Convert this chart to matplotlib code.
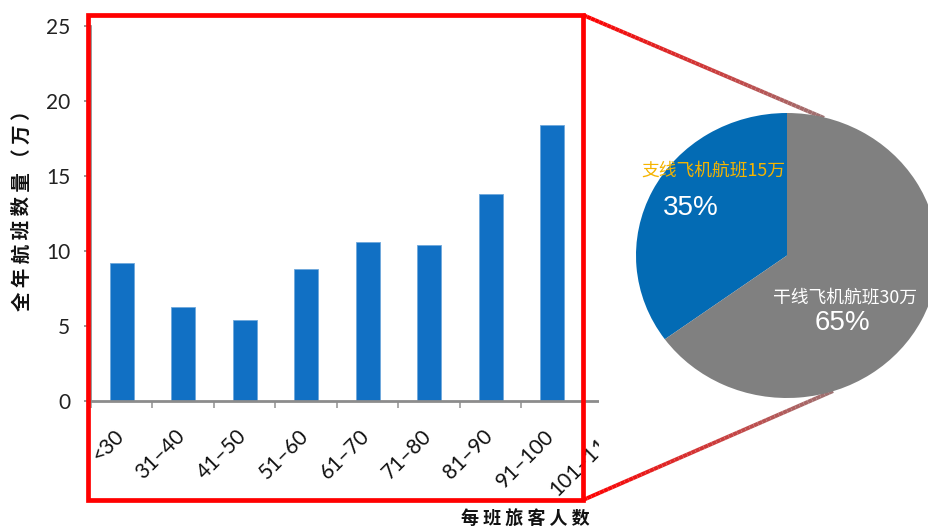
import matplotlib
matplotlib.use("Agg")
import matplotlib.pyplot as plt
import matplotlib.transforms as mtransforms
import numpy as np
from matplotlib.patches import Rectangle
from matplotlib.collections import LineCollection

# ---- data ----
categories = ["<30", "31–40", "41–50", "51–60", "61–70", "71–80", "81–90", "91–100", "101–110"]
flights = [9.2, 6.3, 5.4, 8.8, 10.6, 10.4, 13.8, 18.4]
y_ticks = [0, 5, 10, 15, 20, 25]
y_title = "全年航班数量（万）"
x_title = "每班旅客人数"
pie_labels = ["支线飞机航班15万", "干线飞机航班30万"]
pie_pcts = ["35%", "65%"]
pie_values = [35, 65]

W, H = 929, 529
fig = plt.figure(figsize=(W / 100, H / 100), dpi=100)
fig.patch.set_facecolor("white")

def fx(x):
    return x / W

def fy(y):
    return 1 - y / H

CJK = ["Noto Sans CJK SC", "DejaVu Sans"]
NUM = ["Lato", "DejaVu Sans"]

# ---- bar chart ----
ax = fig.add_axes([fx(91), fy(401), 553.5 / W, 375 / H])
ax.set_zorder(0)
x = np.arange(len(flights))
ax.bar(x, flights, width=0.39, color="#1170C4", edgecolor="#6FA8DC", linewidth=0.6, zorder=2)
ax.set_xlim(-0.5, len(categories) - 0.5)
ax.set_ylim(0, 25)
ax.set_yticks(y_ticks)
ax.set_yticklabels([str(v) for v in y_ticks], fontsize=15, color="#222222", family=NUM)
ax.tick_params(axis="y", length=5, width=1.2, color="#888888", pad=10)

ax.set_xticks(np.arange(len(categories)))
ax.set_xticklabels(categories, rotation=45, ha="right", va="top", fontsize=15,
                   color="#111111", family=NUM)
ax.tick_params(axis="x", which="major", length=0, pad=18)
shift = mtransforms.ScaledTranslation(6 / 100, 0, fig.dpi_scale_trans)
for lab in ax.get_xticklabels():
    lab.set_transform(lab.get_transform() + shift)
ax.set_xticks(np.arange(len(categories) + 1) - 0.5, minor=True)
ax.tick_params(axis="x", which="minor", length=5, width=1.2, color="#999999", direction="out")

for s in ["top", "right"]:
    ax.spines[s].set_visible(False)
ax.spines["bottom"].set_color("#8c8c8c")
ax.spines["bottom"].set_linewidth(2)
ax.spines["bottom"].set_bounds(-0.5, 7.78)
ax.spines["left"].set_color("#888888")
ax.spines["left"].set_linewidth(1.2)

# cover the cropped part at the right of the bar chart
fig.patches.append(Rectangle((fx(599), fy(500)), fx(670) - fx(599), fy(395) - fy(500),
                             transform=fig.transFigure, facecolor="white",
                             edgecolor="none", zorder=1))

# axis titles (characters spaced out)
fig.text(fx(22), fy(206), " ".join(y_title), rotation=90, ha="center", va="center",
         fontsize=14, fontweight="bold", family=CJK, color="#111111")
fig.text(fx(525), fy(519), " ".join(x_title), ha="center", va="center",
         fontsize=13, fontweight="bold", family=CJK, color="#111111")

# red rectangle
fig.patches.append(Rectangle((fx(88), fy(500)), fx(583) - fx(88), fy(15) - fy(500),
                             transform=fig.transFigure, facecolor="none",
                             edgecolor="#FF0000", linewidth=3.4, zorder=2))

# gradient connector lines
def grad_line(p0, p1, n=60):
    xs = np.linspace(p0[0], p1[0], n + 1)
    ys = np.linspace(p0[1], p1[1], n + 1)
    pts = np.column_stack([[fx(v) for v in xs], [fy(v) for v in ys]])
    segs = [pts[i:i + 2] for i in range(n)]
    c0 = np.array([1.0, 0.0, 0.0])
    c1 = np.array([0.62, 0.45, 0.45])
    t = np.linspace(0, 1, n)
    cols = [tuple(c0 + (c1 - c0) * tt) for tt in t]
    lc = LineCollection(segs, colors=cols, linewidths=2.9, transform=fig.transFigure,
                        zorder=2, capstyle="butt")
    fig.add_artist(lc)

grad_line((583, 15), (824, 118))
grad_line((583, 500), (833, 391))

# ---- pie ----
pax = fig.add_axes([fx(636), fy(398), 302 / W, 285 / H])
pax.set_zorder(3)
pax.patch.set_alpha(0)
pax.pie(pie_values, colors=["#036BB4", "#808080"], startangle=90, counterclock=True,
        radius=1.0, wedgeprops=dict(linewidth=0))
pax.set_aspect("auto")
pax.set_xlim(-1, 1)
pax.set_ylim(-1, 1)
pax.axis("off")

fig.text(fx(713), fy(171), pie_labels[0], ha="center", va="center", fontsize=12.8,
         family=CJK, color="#F5B400", zorder=4)
fig.text(fx(691), fy(208), pie_pcts[0], ha="center", va="center", fontsize=20,
         family=["Liberation Sans", "DejaVu Sans"], color="white", zorder=4)
fig.text(fx(845), fy(298), pie_labels[1], ha="center", va="center", fontsize=12.8,
         family=CJK, color="white", zorder=4)
fig.text(fx(842), fy(323), pie_pcts[1], ha="center", va="center", fontsize=20,
         family=["Liberation Sans", "DejaVu Sans"], color="white", zorder=4)

fig.savefig("out.png", dpi=100, facecolor="white")
